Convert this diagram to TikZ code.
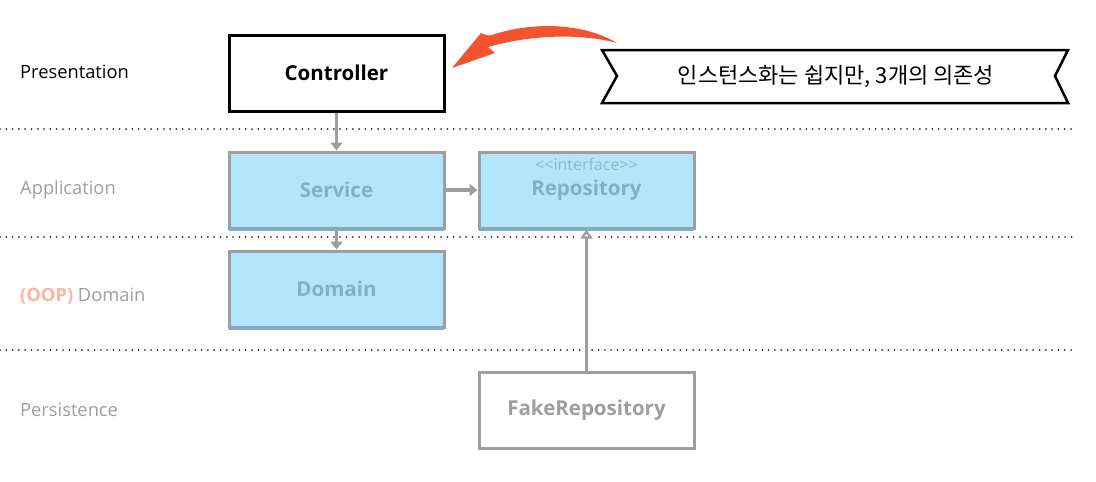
\documentclass[tikz,border=0pt]{standalone}
\usepackage{fontspec}
\setmainfont{Open Sans}
\newfontfamily\kor{Noto Sans CJK KR}
\usetikzlibrary{arrows.meta, positioning}
\definecolor{grigio}{HTML}{9E9E9E}
\definecolor{azzurro}{HTML}{B3E5FC}
\definecolor{bordoblu}{HTML}{7BAFC7}
\definecolor{testoblu}{HTML}{80B1C9}
\definecolor{rosso}{HTML}{F4532F}
\definecolor{salmone}{HTML}{FFB4A2}
\tikzset{
  classe/.style={draw=grigio,line width=3pt,minimum width=215pt,minimum height=76pt,inner sep=0pt,font=\fontsize{20.5}{22}\selectfont\bfseries},
  dominio/.style={classe,fill=azzurro,text=testoblu},
  strato/.style={anchor=west,inner sep=0pt,font=\fontsize{18.3}{20}\selectfont,text=grigio},
  freccia/.style={draw=grigio,line width=3.5pt,-{Triangle[length=8pt,width=12pt]}},
  separatore/.style={draw=black!80,line width=2pt,line cap=round,dash pattern=on 0pt off 6.3pt}
}
\begin{document}
\begin{tikzpicture}[x=1pt,y=-1pt]
\useasboundingbox (0,0) rectangle (1096,482);

% separatori tra gli strati
\draw[separatore] (0,129) -- (1072,129);
\draw[separatore] (0,237) -- (574,237);
\draw[separatore] (599,237) -- (1072,237);
\draw[separatore] (0,350) -- (1072,350);

% nomi degli strati
\node[strato,text=black] (pres) at (20,72) {Presentation};
\node[strato] (appl) at (20,190) {Application};
\node[strato] (dom) at (20,296) {{\color{salmone}\bfseries(OOP)} Domain};
\node[strato] (pers) at (20,410) {Persistence};

% classi
\node[classe,draw=black,fill=white] (ctrl) at (336.5,73) {Controller};
\node[dominio] (serv) at (336.5,190) {Service};
\node[dominio] (repo) at (586.5,190) {Repository};
\node[font=\fontsize{16}{18}\selectfont,text=testoblu!90,below=8pt of repo.north,inner sep=0pt] (iface) {<\kern0pt<interface>\kern0pt>};
\node[dominio] (dmn) at (336.5,289) {Domain};
\node[classe,fill=white,text=grigio] (fake) at (586.5,410) {FakeRepository};

% bordo inferiore azzurrato
\foreach \n in {serv,repo,dmn}{
  \draw[bordoblu,line width=3pt] ([xshift=1.5pt]\n.south west) -- ([xshift=-1.5pt]\n.south east);
}

% dipendenze
\draw[freccia] (ctrl.south) -- (serv.north);
\draw[freccia] (serv.south) -- (dmn.north);
\draw[freccia] (serv.east) -- (repo.east-|repo.west);
\draw[draw=grigio,line width=3.5pt,-{Triangle[open,fill=white,length=9pt,width=12pt]}] (fake.north) -- (repo.south);

% nota a nastro
\draw[line width=2.5pt,line join=miter,fill=white] (602,50) -- (1068,50) -- (1055,76) -- (1068,103) -- (602,103) -- (617,76) -- cycle;
\node[font=\kor\fontsize{22}{24}\selectfont] (nota) at (836,76) {인스턴스화는 쉽지만, 3개의 의존성};

% freccia a pennello
\fill[rosso] (452,68) -- (481,33) .. controls (485,35) and (488,36) .. (492,35)
  .. controls (530,22) and (582,22) .. (617,43)
  .. controls (580,33) and (530,35) .. (488,47)
  -- (495,53) -- cycle;

\end{tikzpicture}
\end{document}
